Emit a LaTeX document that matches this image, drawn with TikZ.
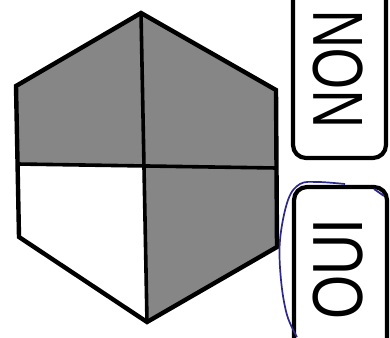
\documentclass[tikz,border=0pt]{standalone}
\usepackage{fontspec}
\setmainfont{Liberation Sans}
\definecolor{greyfill}{RGB}{134,134,134}
\definecolor{pen}{RGB}{45,40,140}
\begin{document}
\begin{tikzpicture}[x=1pt,y=-1pt,
  edge/.style={line width=4.4pt,line join=miter},
  inner/.style={line width=3.6pt},
  answerbox/.style={line width=4.2pt,rounded corners=13pt},
  answer/.style={rotate=90,inner sep=0pt,font=\fontsize{71}{71}\selectfont}]
\useasboundingbox (0,0) rectangle (390,337);
\coordinate (T) at (141,13);
\coordinate (UR) at (276,90);
\coordinate (LR) at (277,247);
\coordinate (B) at (147,322);
\coordinate (LL) at (19,237);
\coordinate (UL) at (16,86);
\coordinate (Lm) at (17.5,164);
\coordinate (Rm) at (276.5,168);
\coordinate (C) at (144,166);
\fill[greyfill] (T) -- (UL) -- (Lm) -- (C) -- cycle;
\fill[greyfill] (T) -- (C) -- (Rm) -- (UR) -- cycle;
\fill[greyfill] (C) -- (Rm) -- (LR) -- (B) -- cycle;
\draw[inner] (T) -- (B);
\draw[inner] (Lm) -- (Rm);
\draw[edge] (T) -- (UR) -- (LR) -- (B) -- (LL) -- (UL) -- cycle;
\draw[answerbox] (293,-20) rectangle (386,158);
\draw[answerbox] (294,187) rectangle (387,357);
\node[answer] (non) at (338,69) {\scalebox{0.75}[1]{NON}};
\node[answer] (oui) at (338,269) {\scalebox{0.8}[1]{OUI}};
\draw[pen,line width=1.7pt] plot[smooth,tension=0.6] coordinates {(345,184) (318,182) (300,184) (288,200) (280,240) (281,280) (287,315) (297,337)};
\draw[pen,line width=1.8pt] (374,189) -- (384,196);
\end{tikzpicture}
\end{document}
